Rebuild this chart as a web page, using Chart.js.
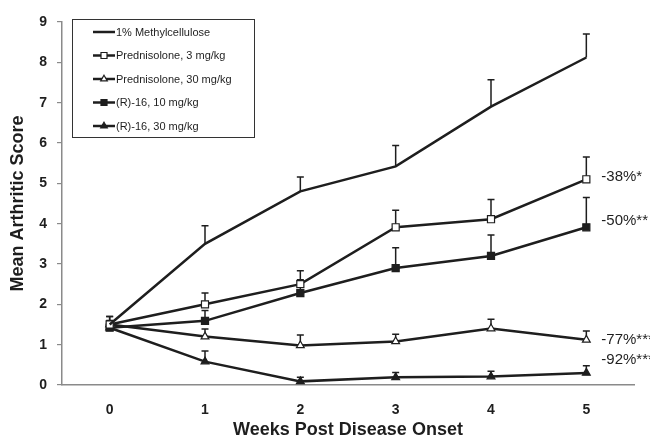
<!DOCTYPE html>
<html>
<head>
<meta charset="utf-8">
<script src="https://cdn.jsdelivr.net/npm/chart.js@4"></script>
<style>
  html, body { margin: 0; padding: 0; background: #fff; }
  #wrap { width: 650px; height: 441px; }
</style>
</head>
<body>
<div id="wrap"><canvas id="chart"></canvas></div>
<script>
const weeks = ['0', '1', '2', '3', '4', '5'];

const seriesNames = [
  '1% Methylcellulose',
  'Prednisolone, 3 mg/kg',
  'Prednisolone, 30 mg/kg',
  '(R)-16, 10 mg/kg',
  '(R)-16, 30 mg/kg'
];

const methylMean = [1.5, 3.5, 4.8, 5.42, 6.9, 8.12];
const methylSem = [0.2, 0.45, 0.36, 0.52, 0.67, 0.58];

const pred3Mean = [1.5, 2.0, 2.5, 3.91, 4.11, 5.1];
const pred3Sem = [0.2, 0.28, 0.33, 0.42, 0.49, 0.55];

const pred30Mean = [1.5, 1.2, 0.98, 1.08, 1.4, 1.12];
const pred30Sem = [0.1, 0.19, 0.26, 0.18, 0.23, 0.22];

const r10Mean = [1.42, 1.59, 2.28, 2.9, 3.2, 3.91];
const r10Sem = [0.15, 0.26, 0.33, 0.5, 0.52, 0.74];

const r30Mean = [1.42, 0.58, 0.09, 0.19, 0.21, 0.3];
const r30Sem = [0.1, 0.26, 0.1, 0.12, 0.13, 0.18];

const yTicks = [0, 1, 2, 3, 4, 5, 6, 7, 8, 9];

// percent change labels shown to the right of week 5 (methylcellulose has none)
const changeLabels = ['', '-38%*', '-50%**', '-77%***', '-92%***'];
const changeLabelY = [null, 5.17, 4.08, 1.11, 0.62];

const FONT = '"Liberation Sans", Arial, Helvetica, sans-serif';
const INK = '#1e1e1e';

const styles = [
  { pointStyle: 'circle', radius: 0, fill: INK },
  { pointStyle: 'rect', radius: 5, fill: '#ffffff' },
  { pointStyle: 'triangle', radius: 4.5, fill: '#ffffff' },
  { pointStyle: 'rect', radius: 5, fill: INK },
  { pointStyle: 'triangle', radius: 4.5, fill: INK }
];

const means = [methylMean, pred3Mean, pred30Mean, r10Mean, r30Mean];
const sems = [methylSem, pred3Sem, pred30Sem, r10Sem, r30Sem];

const datasets = seriesNames.map((name, i) => ({
  label: name,
  data: means[i],
  sem: sems[i],
  borderColor: INK,
  borderWidth: 2.5,
  backgroundColor: styles[i].fill,
  pointBackgroundColor: styles[i].fill,
  pointBorderColor: INK,
  pointBorderWidth: 1.2,
  pointStyle: styles[i].pointStyle,
  pointRadius: styles[i].radius,
  pointHoverRadius: styles[i].radius,
  tension: 0,
  fill: false
}));

// upward-only SEM bars, drawn under the lines and markers
const errorBars = {
  id: 'errorBars',
  beforeDatasetsDraw(chart) {
    const ctx = chart.ctx;
    const y = chart.scales.y;
    ctx.save();
    ctx.strokeStyle = INK;
    ctx.lineWidth = 1.5;
    chart.data.datasets.forEach((ds, i) => {
      const meta = chart.getDatasetMeta(i);
      meta.data.forEach((pt, j) => {
        const top = y.getPixelForValue(ds.data[j] + ds.sem[j]);
        ctx.beginPath();
        ctx.moveTo(pt.x, pt.y);
        ctx.lineTo(pt.x, top);
        ctx.moveTo(pt.x - 3.5, top);
        ctx.lineTo(pt.x + 3.5, top);
        ctx.stroke();
      });
    });
    ctx.restore();
  }
};

// boxed legend in the top-left corner, plus the % labels
const boxLegend = {
  id: 'boxLegend',
  afterDraw(chart) {
    const ctx = chart.ctx;
    const bx = 72, by = 19, bw = 182, bh = 118;
    ctx.save();
    ctx.fillStyle = '#fff';
    ctx.fillRect(bx, by, bw, bh);
    ctx.strokeStyle = '#333';
    ctx.lineWidth = 1;
    ctx.strokeRect(bx + 0.5, by + 0.5, bw, bh);

    ctx.font = '11px ' + FONT;
    ctx.textBaseline = 'middle';
    ctx.textAlign = 'left';
    seriesNames.forEach((name, i) => {
      const ry = by + 13 + i * 23.5;
      ctx.strokeStyle = INK;
      ctx.lineWidth = 2.5;
      ctx.beginPath();
      ctx.moveTo(93, ry);
      ctx.lineTo(115, ry);
      ctx.stroke();
      if (styles[i].radius > 0) {
        ctx.fillStyle = styles[i].fill;
        ctx.strokeStyle = INK;
        ctx.lineWidth = 1.2;
        Chart.helpers.drawPoint(ctx, {
          pointStyle: styles[i].pointStyle,
          radius: styles[i].radius * 0.85,
          rotation: 0,
          borderWidth: 1.2
        }, 104, ry);
      }
      ctx.fillStyle = INK;
      ctx.fillText(name, 116, ry + 0.5);
    });

    const xs = chart.scales.x, ys = chart.scales.y;
    ctx.font = '15px ' + FONT;
    ctx.fillStyle = INK;
    changeLabels.forEach((t, i) => {
      if (!t) return;
      ctx.fillText(t, xs.getPixelForValue(5) + 15, ys.getPixelForValue(changeLabelY[i]));
    });
    ctx.restore();
  }
};

new Chart(document.getElementById('chart'), {
  type: 'line',
  data: { labels: weeks, datasets: datasets },
  plugins: [errorBars, boxLegend],
  options: {
    responsive: true,
    maintainAspectRatio: false,
    animation: false,
    layout: { padding: { top: 22, right: 16, left: 0, bottom: 0 } },
    plugins: {
      legend: { display: false },
      tooltip: { enabled: false }
    },
    scales: {
      x: {
        type: 'category',
        offset: true,
        afterFit: (s) => { s.height = 56; },
        grid: { display: false, drawTicks: false },
        border: { display: true, color: '#8a8a8a', width: 1.5 },
        ticks: {
          color: INK,
          padding: 17,
          font: { family: FONT, size: 14, weight: 'bold' }
        },
        title: {
          display: true,
          text: 'Weeks Post Disease Onset',
          color: INK,
          padding: { top: 0, bottom: 0 },
          font: { family: FONT, size: 18, weight: 'bold' }
        }
      },
      y: {
        min: 0,
        max: 9,
        afterFit: (s) => { s.width = 62; },
        afterBuildTicks: (s) => { s.ticks = yTicks.map(v => ({ value: v })); },
        grid: {
          display: true,
          drawOnChartArea: false,
          drawTicks: true,
          tickLength: 5,
          color: '#8a8a8a',
          lineWidth: 1.2
        },
        border: { display: true, color: '#8a8a8a', width: 1.5 },
        ticks: {
          color: INK,
          padding: 10,
          font: { family: FONT, size: 14, weight: 'bold' }
        },
        title: {
          display: true,
          text: 'Mean Arthritic Score',
          color: INK,
          padding: { top: 7, bottom: 0 },
          font: { family: FONT, size: 18, weight: 'bold' }
        }
      }
    }
  }
});
</script>
</body>
</html>
